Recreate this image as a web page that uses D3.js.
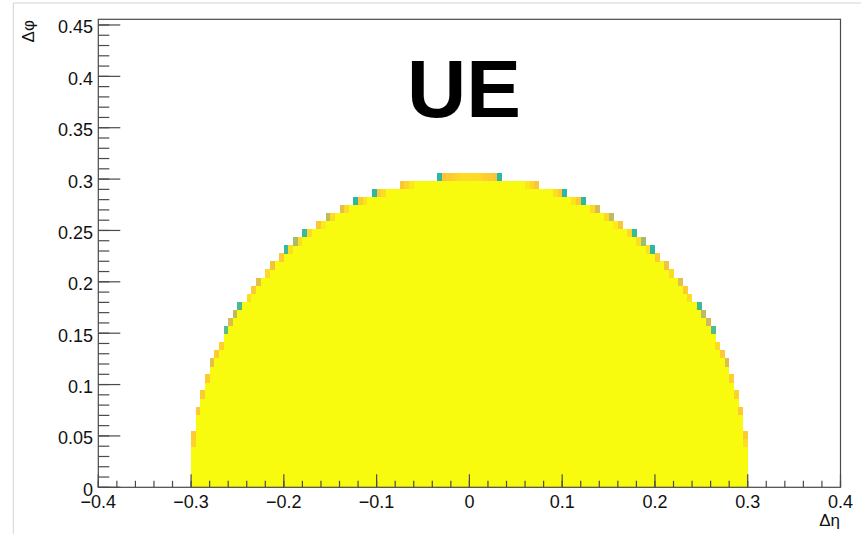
<!DOCTYPE html>
<html>
<head>
<meta charset="utf-8">
<script src="https://cdn.jsdelivr.net/npm/d3@7"></script>
<style>
  html, body { margin: 0; padding: 0; background: #fff; }
  svg { display: block; font-family: "Liberation Sans", Arial, Helvetica, sans-serif; }
</style>
</head>
<body>
<svg id="chart" width="861" height="534"></svg>
<script>
// Δη–Δφ occupancy of the underlying-event cone (2D histogram, colz style)

// Binning
const etaRange = [-0.4, 0.4];
const etaBinWidth = 0.005;
const phiBinHeight = Math.PI / 400;
const phiBinCount = 58;

// Half-width in Δη of the filled band for each Δφ row (row 0 = bottom)
const rowHalfWidth = [
  0.300, 0.300, 0.300, 0.300, 0.300, 0.300, 0.300, 0.295, 0.295, 0.295,
  0.290, 0.290, 0.285, 0.285, 0.280, 0.280, 0.275, 0.270, 0.265, 0.265,
  0.260, 0.255, 0.250, 0.240, 0.235, 0.230, 0.220, 0.215, 0.205, 0.200,
  0.190, 0.180, 0.165, 0.155, 0.140, 0.125, 0.105, 0.075, 0.035
];

// Cells on the rim whose content sits below the maximum: [Δη bin centre, row, z (0..1)]
const rimCells = [
  [0.2975, 5, 0.93], [0.2975, 6, 0.88], [0.2925, 9, 0.88], [0.2875, 11, 0.90],
  [0.2825, 13, 0.89], [0.2775, 15, 0.78], [0.2725, 16, 0.88], [0.2675, 17, 0.92],
  [0.2625, 19, 0.55], [0.2575, 20, 0.75], [0.2525, 21, 0.72], [0.2475, 22, 0.52],
  [0.2375, 23, 0.93], [0.2325, 24, 0.88], [0.2275, 25, 0.80], [0.2175, 26, 0.92],
  [0.2125, 27, 0.84], [0.2025, 28, 0.88], [0.1975, 29, 0.50], [0.1925, 29, 0.93],
  [0.1875, 30, 0.66], [0.1825, 30, 0.93], [0.1775, 31, 0.52], [0.1725, 31, 0.92],
  [0.1625, 32, 0.87], [0.1575, 32, 0.96], [0.1525, 33, 0.72], [0.1475, 33, 0.92],
  [0.1375, 34, 0.76], [0.1325, 34, 0.92], [0.1225, 35, 0.50], [0.1175, 35, 0.88],
  [0.1125, 35, 0.94], [0.1025, 36, 0.50], [0.0975, 36, 0.88], [0.0925, 36, 0.93],
  [0.0725, 37, 0.86], [0.0675, 37, 0.91], [0.0625, 37, 0.95],
  [0.0325, 38, 0.50], [0.0275, 38, 0.86], [0.0225, 38, 0.88], [0.0175, 38, 0.89],
  [0.0125, 38, 0.91], [0.0075, 38, 0.92], [0.0025, 38, 0.92],
  [-0.0025, 38, 0.92], [-0.0075, 38, 0.92], [-0.0125, 38, 0.91], [-0.0175, 38, 0.89],
  [-0.0225, 38, 0.88], [-0.0275, 38, 0.86], [-0.0325, 38, 0.50],
  [-0.0625, 37, 0.95], [-0.0675, 37, 0.91], [-0.0725, 37, 0.86],
  [-0.0925, 36, 0.93], [-0.0975, 36, 0.88], [-0.1025, 36, 0.50],
  [-0.1125, 35, 0.94], [-0.1175, 35, 0.88], [-0.1225, 35, 0.50],
  [-0.1325, 34, 0.92], [-0.1375, 34, 0.80], [-0.1475, 33, 0.92], [-0.1525, 33, 0.72],
  [-0.1575, 32, 0.96], [-0.1625, 32, 0.87], [-0.1725, 31, 0.92], [-0.1775, 31, 0.52],
  [-0.1825, 30, 0.93], [-0.1875, 30, 0.68], [-0.1925, 29, 0.93], [-0.1975, 29, 0.52],
  [-0.2025, 28, 0.88], [-0.2125, 27, 0.84], [-0.2175, 26, 0.92], [-0.2275, 25, 0.80],
  [-0.2325, 24, 0.88], [-0.2375, 23, 0.93], [-0.2475, 22, 0.54], [-0.2525, 21, 0.72],
  [-0.2575, 20, 0.78], [-0.2625, 19, 0.56], [-0.2675, 17, 0.90], [-0.2725, 16, 0.88],
  [-0.2775, 15, 0.80], [-0.2825, 13, 0.88], [-0.2875, 11, 0.88], [-0.2925, 9, 0.88],
  [-0.2975, 6, 0.88], [-0.2975, 5, 0.90]
];

// Axis ticks
const etaMajorTicks = [-0.4, -0.3, -0.2, -0.1, 0, 0.1, 0.2, 0.3, 0.4];
const phiMajorTicks = [0, 0.05, 0.1, 0.15, 0.2, 0.25, 0.3, 0.35, 0.4, 0.45];
const etaMinorStep = 0.02;
const phiMinorStep = 0.01;

// Colour palette stops (bird)
const paletteStops = [0, 0.125, 0.25, 0.375, 0.5, 0.625, 0.75, 0.875, 1];
const paletteColors = [
  "rgb(53,42,135)", "rgb(15,92,221)", "rgb(20,129,214)", "rgb(6,164,202)",
  "rgb(46,183,164)", "rgb(135,191,119)", "rgb(209,187,89)", "rgb(254,200,50)",
  "rgb(249,251,14)"
];

const svg = d3.select("#chart");
const W = 861, H = 534;
const frame = { left: 98.3, right: 840.5, top: 19.3, bottom: 487.3 };

const x = d3.scaleLinear().domain(etaRange).range([frame.left, frame.right]);
const y = d3.scaleLinear().domain([0, phiBinCount * phiBinHeight]).range([frame.bottom, frame.top]);
const color = d3.scaleLinear().domain(paletteStops).range(paletteColors).interpolate(d3.interpolateRgb).clamp(true);

// canvas border
svg.append("line").attr("x1", 13.3).attr("x2", 13.3).attr("y1", 3).attr("y2", H)
  .attr("stroke", "#d4d4d4").attr("stroke-width", 1);
svg.append("line").attr("x1", 13.3).attr("x2", W).attr("y1", 3).attr("y2", 3)
  .attr("stroke", "#d4d4d4").attr("stroke-width", 1);

// cells
const rimLookup = new Map(rimCells.map(([eta, row, z]) => [row + ":" + Math.round(eta * 2000), z]));
const cells = [];
rowHalfWidth.forEach((hw, row) => {
  const n = Math.round(2 * hw / etaBinWidth);
  for (let k = 0; k < n; k++) {
    const lo = -hw + k * etaBinWidth;
    const centre = lo + etaBinWidth / 2;
    const key = row + ":" + Math.round(centre * 2000);
    cells.push({ lo, hi: lo + etaBinWidth, row, z: rimLookup.has(key) ? rimLookup.get(key) : 1 });
  }
});

svg.append("g").attr("shape-rendering", "crispEdges")
  .selectAll("rect").data(cells).join("rect")
  .attr("x", d => x(d.lo))
  .attr("width", d => x(d.hi) - x(d.lo) + 0.3)
  .attr("y", d => y((d.row + 1) * phiBinHeight))
  .attr("height", d => y(d.row * phiBinHeight) - y((d.row + 1) * phiBinHeight) + 0.3)
  .attr("fill", d => color(d.z));

// frame
const axisColor = "#4a4a4a";
svg.append("rect")
  .attr("x", frame.left).attr("y", frame.top)
  .attr("width", frame.right - frame.left).attr("height", frame.bottom - frame.top)
  .attr("fill", "none").attr("stroke", axisColor).attr("stroke-width", 1.2);

// x axis ticks (inward)
const etaMinor = d3.range(etaRange[0], etaRange[1] + 1e-9, etaMinorStep);
const gx = svg.append("g").attr("stroke", axisColor).attr("stroke-width", 1.2);
gx.selectAll("line.minor").data(etaMinor).join("line")
  .attr("x1", d => x(d)).attr("x2", d => x(d))
  .attr("y1", frame.bottom).attr("y2", frame.bottom - 6.5);
gx.selectAll("line.major").data(etaMajorTicks).join("line")
  .attr("x1", d => x(d)).attr("x2", d => x(d))
  .attr("y1", frame.bottom).attr("y2", frame.bottom - 13);

const fmtTick = v => (v === 0 ? "0" : d3.format("")(+v.toFixed(2))).replace("-", "\u2212");
svg.append("g").selectAll("text").data(etaMajorTicks).join("text")
  .attr("x", d => x(d)).attr("y", 507.5)
  .attr("text-anchor", "middle").attr("font-size", 18).attr("fill", "#111")
  .text(fmtTick);

// y axis ticks (inward)
const phiMinor = d3.range(0, phiBinCount * phiBinHeight, phiMinorStep);
const gy = svg.append("g").attr("stroke", axisColor).attr("stroke-width", 1.2);
gy.selectAll("line.minor").data(phiMinor).join("line")
  .attr("y1", d => y(d)).attr("y2", d => y(d))
  .attr("x1", frame.left).attr("x2", frame.left + 11);
gy.selectAll("line.major").data(phiMajorTicks).join("line")
  .attr("y1", d => y(d)).attr("y2", d => y(d))
  .attr("x1", frame.left).attr("x2", frame.left + 22);

svg.append("g").selectAll("text").data(phiMajorTicks).join("text")
  .attr("x", 93).attr("y", d => y(d) + 8.5)
  .attr("text-anchor", "end").attr("font-size", 18).attr("fill", "#111")
  .text(fmtTick);

// axis titles
svg.append("text").attr("x", 840).attr("y", 526)
  .attr("text-anchor", "end").attr("font-size", 17).attr("fill", "#111")
  .text("Δη");
svg.append("text").attr("transform", "translate(34,20) rotate(-90)")
  .attr("text-anchor", "end").attr("font-size", 17).attr("fill", "#111")
  .text("Δφ");

// label
svg.append("text").attr("x", 464).attr("y", 117)
  .attr("text-anchor", "middle").attr("font-size", 82).attr("font-weight", "bold").attr("fill", "#000")
  .text("UE");
</script>
</body>
</html>
